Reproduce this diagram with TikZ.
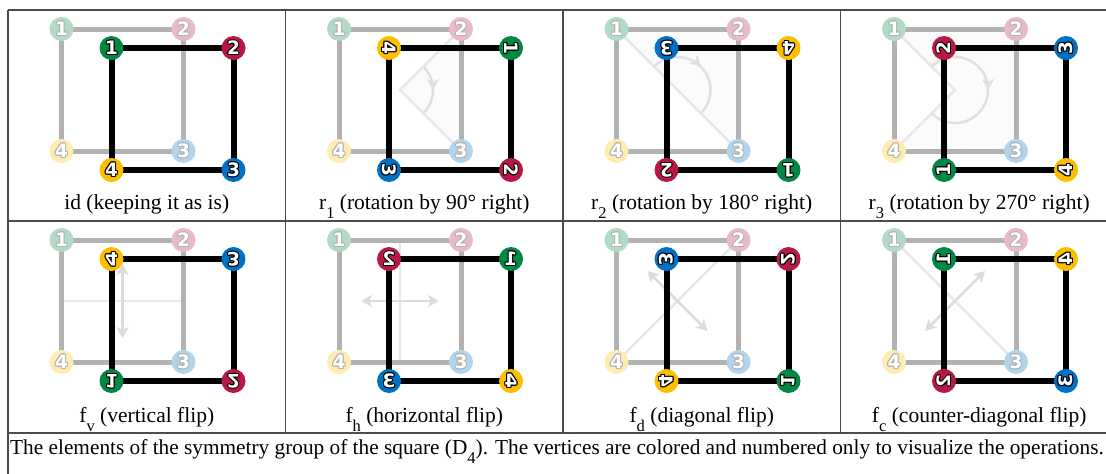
\documentclass[tikz,border=0pt]{standalone}
\usepackage{fontspec}
\setmainfont{Liberation Serif}
\newfontfamily\numfont{DejaVu Sans}
\usetikzlibrary{arrows.meta,decorations.markings}

\definecolor{c1}{RGB}{0,136,68}
\definecolor{c2}{RGB}{183,24,70}
\definecolor{c3}{RGB}{0,114,198}
\definecolor{c4}{RGB}{252,191,0}
\colorlet{f1}{c1!30!white}
\colorlet{f2}{c2!30!white}
\colorlet{f3}{c3!30!white}
\colorlet{f4}{c4!30!white}

\newcommand\olc[4]{\makebox[0pt][l]{\kern#1\raisebox{#2}{\textcolor{#3}{#4}}}}
\newcommand\olnum[2]{{\numfont\bfseries\fontsize{18.5}{18.5}\selectfont
 \olc{-1.1pt}{0pt}{#1}{#2}\olc{1.1pt}{0pt}{#1}{#2}\olc{0pt}{1.1pt}{#1}{#2}\olc{0pt}{-1.1pt}{#1}{#2}%
 \olc{-.8pt}{.8pt}{#1}{#2}\olc{.8pt}{.8pt}{#1}{#2}\olc{-.8pt}{-.8pt}{#1}{#2}\olc{.8pt}{-.8pt}{#1}{#2}%
 \textcolor{white}{#2}}}
\newcommand\sbs[1]{\raisebox{-9pt}{\fontsize{16.5}{16.5}\selectfont #1}}

\tikzset{
 ghostedge/.style={draw=black!30, line width=5pt},
 blackedge/.style={draw=black, line width=6pt, line join=miter},
 opline/.style={draw=black!9, line width=2.5pt},
 opfill/.style={fill=black!1.5},
 oparr/.style={draw=black!14, line width=2.5pt, {Stealth[length=11pt,width=12pt,inset=3pt]}-{Stealth[length=11pt,width=12pt,inset=3pt]}},
 oparc/.style={draw=black!12, line width=2.5pt, postaction={decorate}, decoration={markings, mark=at position 0.5 with {\arrow{Stealth[length=11pt,width=12pt,inset=3pt]}}}},
 lbl/.style={anchor=base, inner sep=0, font=\fontsize{21.5}{26}\selectfont},
 tab/.style={draw=black!70, line width=1.2pt},
 dig/.style={inner sep=0},
}

\newcommand\gv[2]{\fill[f#2] (#1) circle[radius=12pt];
  \node[dig] at (#1) {\olnum{black!30}{#2}};}
\newcommand\bv[3]{\fill[c#2] (#1) circle[radius=12pt];
  \node[dig,#3] at (#1) {\olnum{black}{#2}};}

% #1 name, #2 #3 ghost centre, #4-#7 TL TR BR BL, #8 digit transform, #9 indicator
\newcommand\cellpic[9]{%
 \begin{scope}[shift={(#2,#3)}]
  #9
  \coordinate (#1g1) at (-61,61); \coordinate (#1g2) at (61,61);
  \coordinate (#1g3) at (61,-61); \coordinate (#1g4) at (-61,-61);
  \draw[ghostedge] (#1g1) -- (#1g2) -- (#1g3) -- (#1g4) -- cycle;
  \gv{#1g1}{1}\gv{#1g2}{2}\gv{#1g3}{3}\gv{#1g4}{4}
  \coordinate (#1b1) at (-11,42); \coordinate (#1b2) at (111,42);
  \coordinate (#1b3) at (111,-80); \coordinate (#1b4) at (-11,-80);
  \draw[blackedge] (#1b1) -- (#1b2) -- (#1b3) -- (#1b4) -- cycle;
  \bv{#1b1}{#4}{#8}\bv{#1b2}{#5}{#8}\bv{#1b3}{#6}{#8}\bv{#1b4}{#7}{#8}
 \end{scope}}

\begin{document}
\begin{tikzpicture}[x=1pt,y=1pt]
\useasboundingbox (0,0) rectangle (1106,-474);
\clip (0,0) rectangle (1106,-474);
\fill[white] (0,0) rectangle (1106,-474);

% table
\draw[tab] (8,-10) -- (1130,-10);
\draw[tab] (8,-221) -- (1130,-221);
\draw[tab] (8,-433) -- (1130,-433);
\draw[tab] (8,-10) -- (8,-480);
\draw[tab] (285.5,-10) -- (285.5,-433);
\draw[tab] (563,-10) -- (563,-433);
\draw[tab] (840.5,-10) -- (840.5,-433);

% row 1
\cellpic{id}{122.5}{-90}{1}{2}{3}{4}{}{}
\cellpic{ra}{400}{-90}{4}{1}{2}{3}{rotate=-90}{%
  \fill[opfill] (0,0) -- (61,61) -- (61,-61) -- cycle;
  \draw[opline] (61,61) -- (0,0) -- (61,-61);
  \draw[oparc] (45:33pt) arc[start angle=45, end angle=-45, radius=33pt];}
\cellpic{rb}{677.5}{-90}{3}{4}{1}{2}{rotate=180}{%
  \fill[opfill] (-61,61) -- (61,61) -- (61,-61) -- cycle;
  \draw[opline] (-61,61) -- (61,-61);
  \draw[oparc] (135:33pt) arc[start angle=135, end angle=-45, radius=33pt];}
\cellpic{rc}{955}{-90}{2}{3}{4}{1}{rotate=90}{%
  \fill[opfill] (0,0) -- (-61,61) -- (61,61) -- (61,-61) -- (-61,-61) -- cycle;
  \draw[opline] (-61,61) -- (0,0) -- (-61,-61);
  \draw[oparc] (135:33pt) arc[start angle=135, end angle=-135, radius=33pt];}

% row 2
\cellpic{fv}{122.5}{-301}{4}{3}{2}{1}{yscale=-1}{%
  \draw[opline] (-61,0) -- (61,0);
  \draw[oparr] (0,37) -- (0,-37);}
\cellpic{fh}{400}{-301}{2}{1}{4}{3}{xscale=-1}{%
  \draw[opline] (0,61) -- (0,-61);
  \draw[oparr] (-39,0) -- (39,0);}
\cellpic{fd}{677.5}{-301}{3}{2}{1}{4}{cm={0,1,1,0,(0,0)}}{%
  \draw[opline] (-61,-61) -- (61,61);
  \draw[oparr] (-30,30) -- (30,-30);}
\cellpic{fc}{955}{-301}{1}{4}{3}{2}{cm={0,-1,-1,0,(0,0)}}{%
  \draw[opline] (-61,61) -- (61,-61);
  \draw[oparr] (30,30) -- (-30,-30);}

% labels
\node[lbl] (l1) at (146.75,-209) {id (keeping it as is)};
\node[lbl] (l2) at (424.25,-209) {r\sbs{1} (rotation by 90° right)};
\node[lbl] (l3) at (701.75,-209) {r\sbs{2} (rotation by 180° right)};
\node[lbl] (l4) at (979.25,-209) {r\sbs{3} (rotation by 270° right)};
\node[lbl] (l5) at (146.75,-422) {f\sbs{v} (vertical flip)};
\node[lbl] (l6) at (424.25,-422) {f\sbs{h} (horizontal flip)};
\node[lbl] (l7) at (701.75,-422) {f\sbs{d} (diagonal flip)};
\node[lbl] (l8) at (979.25,-422) {f\sbs{c} (counter-diagonal flip)};

\node[lbl, anchor=base west, font=\fontsize{21.3}{26}\selectfont] (cap) at (10,-454) {The elements of the symmetry group of the square (D\sbs{4}). The vertices are colored and numbered only to visualize the operations.};
\end{tikzpicture}
\end{document}
